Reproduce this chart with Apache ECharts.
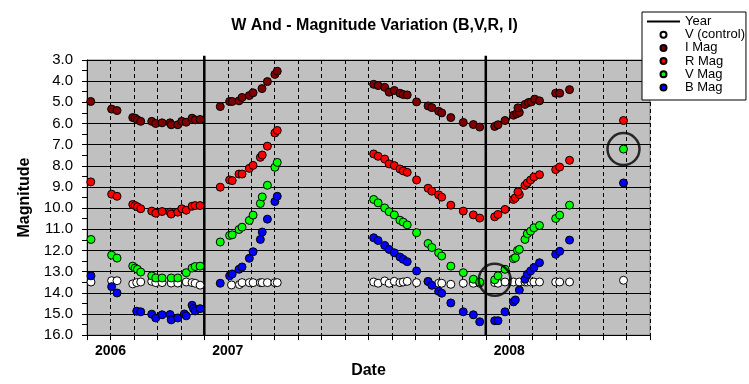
<!DOCTYPE html>
<html>
<head>
<meta charset="utf-8">
<script src="https://cdn.jsdelivr.net/npm/echarts@6/dist/echarts.min.js"></script>
<style>
html,body{margin:0;padding:0;background:#fff;}
#chart{width:749px;height:384px;}
</style>
</head>
<body>
<div id="chart"></div>
<script>
// x values: months since 1 Jan 2006 ; y values: magnitude
var xTickLabels = {8: '2006', 13: '2007', 25: '2008'};
var yearLines = [12, 24];

var vControl = [
  [7.17,13.49],[8.05,13.43],[8.28,13.43],[8.95,13.58],[9.12,13.52],[9.29,13.49],[9.76,13.46],[9.93,13.52],[10.2,13.52],[10.59,13.54],[10.87,13.54],[11.23,13.49],[11.48,13.52],[11.61,13.55],[11.82,13.64],
  [13.16,13.63],[13.5,13.61],[13.61,13.52],[13.92,13.52],[14.08,13.52],[14.39,13.52],[14.47,13.52],[14.69,13.52],[15.01,13.52],[15.11,13.52],
  [19.22,13.49],[19.41,13.55],[19.69,13.44],[19.88,13.55],[20.10,13.46],[20.34,13.52],[20.48,13.49],[20.65,13.46],[21.05,13.52],[21.54,13.46],[21.99,13.55],[22.12,13.55],[22.51,13.60],[23.04,13.55],[23.47,13.55],[23.74,13.55],
  [24.38,13.52],[24.52,13.55],[24.82,13.49],[25.18,13.49],[25.43,13.49],[25.67,13.49],[25.77,13.49],[25.91,13.49],[26.05,13.49],[26.29,13.49],[26.98,13.49],[27.15,13.49],[27.57,13.49],[29.87,13.41]
];

var iMag = [
  [7.16,4.96],[8.05,5.32],[8.28,5.39],[8.95,5.72],[9.05,5.75],[9.15,5.83],[9.29,5.90],[9.76,5.90],[9.93,6.00],[10.2,5.97],[10.54,5.97],[10.59,6.06],[10.87,6.06],[11.04,5.90],[11.23,5.94],[11.48,5.75],[11.61,5.83],[11.82,5.81],
  [12.68,5.20],[13.08,4.96],[13.19,4.96],[13.48,4.93],[13.61,4.77],[13.92,4.68],[14.08,4.55],[14.46,4.35],[14.69,4.02],[15.01,3.68],[15.11,3.53],
  [19.22,4.15],[19.41,4.21],[19.69,4.29],[19.88,4.52],[20.10,4.44],[20.34,4.57],[20.48,4.63],[20.65,4.65],[21.05,4.98],[21.54,5.17],[21.70,5.25],[21.99,5.42],[22.12,5.50],[22.51,5.72],[23.04,5.95],[23.47,6.05],[23.74,6.17],
  [24.38,6.14],[24.52,6.06],[24.82,5.86],[25.18,5.61],[25.32,5.54],[25.43,5.48],[25.37,5.26],[25.67,5.10],[25.82,5.01],[25.94,4.98],[26.09,4.85],[26.29,4.93],[26.98,4.57],[27.15,4.57],[27.57,4.40]
];

var rMag = [
  [7.16,8.76],[8.05,9.34],[8.28,9.44],[8.95,9.83],[9.05,9.88],[9.15,9.94],[9.29,10.03],[9.76,10.14],[9.93,10.24],[10.2,10.16],[10.54,10.19],[10.59,10.28],[10.87,10.19],[11.04,10.03],[11.23,10.10],[11.48,9.91],[11.61,9.88],[11.82,9.88],
  [12.68,9.01],[13.08,8.67],[13.19,8.70],[13.48,8.39],[13.61,8.39],[13.92,8.12],[14.08,7.98],[14.39,7.60],[14.47,7.49],[14.69,7.07],[15.01,6.45],[15.11,6.33],
  [19.22,7.44],[19.41,7.55],[19.69,7.68],[19.88,7.91],[20.10,7.99],[20.34,8.15],[20.48,8.24],[20.65,8.31],[21.05,8.67],[21.54,9.06],[21.70,9.20],[21.99,9.37],[22.12,9.48],[22.51,9.86],[23.04,10.14],[23.47,10.32],[23.74,10.47],
  [24.38,10.41],[24.52,10.30],[24.82,10.06],[25.18,9.59],[25.26,9.51],[25.43,9.36],[25.37,9.23],[25.67,8.93],[25.77,8.81],[25.91,8.67],[26.05,8.53],[26.29,8.42],[26.98,8.18],[27.15,8.06],[27.57,7.74],[29.87,5.86]
];

var vMag = [
  [7.17,11.48],[8.05,12.22],[8.28,12.36],[8.95,12.74],[9.05,12.83],[9.15,12.89],[9.29,13.02],[9.76,13.20],[9.93,13.30],[10.2,13.30],[10.59,13.30],[10.87,13.30],[11.23,13.05],[11.48,12.83],[11.61,12.76],[11.82,12.74],
  [12.68,11.60],[13.08,11.29],[13.19,11.26],[13.48,11.01],[13.61,10.90],[13.92,10.58],[14.08,10.33],[14.39,9.78],[14.47,9.47],[14.69,8.92],[15.01,8.07],[15.11,7.84],
  [19.22,9.59],[19.41,9.75],[19.69,9.99],[19.88,10.17],[20.10,10.32],[20.34,10.57],[20.48,10.66],[20.65,10.79],[21.05,11.16],[21.54,11.67],[21.70,11.86],[21.99,12.11],[22.12,12.26],[22.51,12.74],[23.04,13.05],[23.47,13.36],[23.74,13.49],
  [24.38,13.39],[24.52,13.20],[24.82,12.89],[25.18,12.39],[25.26,12.34],[25.35,12.00],[25.43,11.95],[25.67,11.48],[25.77,11.21],[25.91,11.09],[26.05,10.93],[26.29,10.82],[26.98,10.49],[27.15,10.33],[27.57,9.86],[29.87,7.21]
];

var bMag = [
  [7.17,13.20],[8.05,13.71],[8.28,14.01],[9.12,14.87],[9.29,14.90],[9.76,15.01],[9.93,15.19],[10.2,15.04],[10.54,15.03],[10.59,15.28],[10.87,15.19],[11.15,15.00],[11.23,15.09],[11.48,14.59],[11.54,14.75],[11.61,14.86],[11.82,14.75],
  [12.68,13.55],[13.08,13.20],[13.19,13.11],[13.48,12.89],[13.61,12.78],[13.92,12.37],[14.08,12.06],[14.39,11.48],[14.47,11.13],[14.69,10.52],[15.01,9.69],[15.11,9.44],
  [19.22,11.40],[19.41,11.53],[19.69,11.76],[19.88,11.95],[20.10,12.11],[20.34,12.31],[20.48,12.42],[20.65,12.53],[21.05,12.97],[21.54,13.47],[21.70,13.65],[21.99,13.93],[22.12,14.02],[22.51,14.48],[23.04,14.90],[23.47,15.04],[23.74,15.37],
  [24.38,15.32],[24.52,15.32],[24.82,14.90],[25.18,14.43],[25.26,14.34],[25.43,13.87],[25.67,13.36],[25.77,13.13],[25.91,12.97],[26.05,12.81],[26.29,12.58],[26.98,12.18],[27.15,12.04],[27.57,11.51],[29.87,8.81]
];

var highlighted = [[24.38,13.39],[29.87,7.21]];

var FONT = 'Arial, "Liberation Sans", sans-serif';

function dots(name, data, color) {
  return {
    name: name, type: 'scatter', data: data, symbol: 'circle', symbolSize: 8,
    itemStyle: {color: color, borderColor: '#000', borderWidth: 1, opacity: 1},
    emphasis: {disabled: true}, silent: true, z: 4
  };
}

var series = [];
yearLines.forEach(function (yx) {
  series.push({
    name: 'Year', type: 'line', data: [[yx, 2.8], [yx, 16]], symbol: 'none', clip: false,
    itemStyle: {color: '#000'},
    lineStyle: {color: '#000', width: 2.5}, silent: true, z: 3
  });
});
series.push(dots('V (control)', vControl, '#ffffff'));
series.push(dots('I Mag', iMag, '#800000'));
series.push(dots('R Mag', rMag, '#ff0000'));
series.push(dots('V Mag', vMag, '#00ff00'));
series.push(dots('B Mag', bMag, '#0000ff'));
series.push({
  name: 'highlight', type: 'scatter', data: highlighted, symbol: 'circle', symbolSize: 32,
  itemStyle: {color: 'rgba(0,0,0,0)', borderColor: '#000', borderWidth: 2.5},
  silent: true, z: 6
});

var chart = echarts.init(document.getElementById('chart'), null, {renderer: 'canvas'});
chart.setOption({
  animation: false,
  backgroundColor: '#fff',
  textStyle: {fontFamily: FONT},
  title: {
    text: 'W And - Magnitude Variation (B,V,R, I)', left: 'center', top: 13,
    textStyle: {fontFamily: FONT, fontSize: 16, fontWeight: 'bold', color: '#000'}
  },
  legend: {
    left: 642, top: 12, orient: 'vertical',
    backgroundColor: '#fff', borderColor: '#000', borderWidth: 1, borderRadius: 0,
    padding: [3, 1, 6, 4], itemWidth: 33, itemHeight: 6, itemGap: 0.2,
    textStyle: {fontFamily: FONT, fontSize: 13, lineHeight: 13, color: '#000'},
    data: [
      {name: 'Year', itemStyle: {opacity: 0}},
      'V (control)', 'I Mag', 'R Mag', 'V Mag', 'B Mag'
    ],
    selectedMode: false, z: 10
  },
  grid: {
    left: 87, top: 60, right: 99, bottom: 48, show: true,
    backgroundColor: '#c0c0c0', borderColor: '#808080', borderWidth: 1
  },
  xAxis: {
    type: 'value', min: 7, max: 31, interval: 1,
    name: 'Date', nameLocation: 'middle', nameGap: 25,
    nameTextStyle: {fontFamily: FONT, fontSize: 16, fontWeight: 'bold', color: '#000'},
    axisLine: {show: true, onZero: false, lineStyle: {color: '#000', width: 1}},
    axisTick: {show: true, inside: false, length: 5, lineStyle: {color: '#000'}},
    axisLabel: {
      show: true, margin: 9, fontFamily: FONT, fontSize: 14, fontWeight: 'bold', color: '#000',
      formatter: function (v) { return xTickLabels[Math.round(v)] || ''; }
    },
    splitLine: {show: true, lineStyle: {color: '#000', width: 1, type: [4, 3]}}
  },
  yAxis: {
    type: 'value', inverse: true, min: 3, max: 16, interval: 1,
    name: 'Magnitude', nameLocation: 'middle', nameGap: 52, nameRotate: 90,
    nameTextStyle: {fontFamily: FONT, fontSize: 16, fontWeight: 'bold', color: '#000'},
    axisLine: {show: true, onZero: false, lineStyle: {color: '#000', width: 1}},
    axisTick: {show: true, inside: false, length: 5, lineStyle: {color: '#000'}},
    minorTick: {show: true, splitNumber: 2, length: 5, lineStyle: {color: '#000'}},
    axisLabel: {
      margin: 14, fontFamily: FONT, fontSize: 15, color: '#000',
      formatter: function (v) { return v.toFixed(1); }
    },
    splitLine: {show: true, lineStyle: {color: '#000', width: 1}}
  },
  series: series
});
</script>
</body>
</html>
